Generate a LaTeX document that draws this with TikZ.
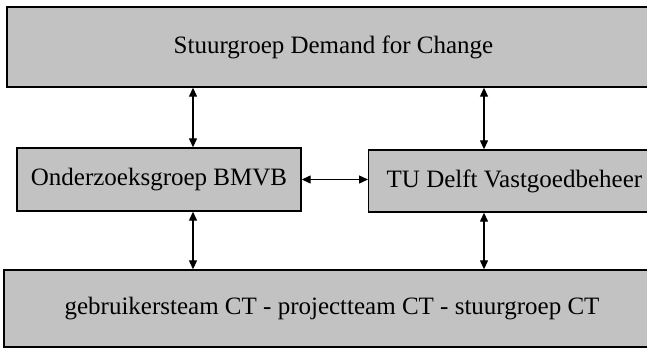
\documentclass[tikz,border=0pt]{standalone}
\usepackage{fontspec}
\setmainfont{Liberation Serif}
\usetikzlibrary{arrows.meta}
\tikzset{
  boxstyle/.style={draw=black, line width=1.4pt, fill=black!24, inner sep=0pt, font=\fontsize{25}{28}\selectfont},
  arr/.style={line width=1.3pt, {Triangle[length=9pt,width=8pt]}-{Triangle[length=9pt,width=8pt]}}
}
\begin{document}
\begin{tikzpicture}[x=1pt,y=-1pt]
\clip (0,0) rectangle (647,351);
\fill[white] (0,0) rectangle (647,351);
\node[boxstyle, minimum width=653pt, minimum height=80pt] (top) at (333.5,47) {Stuurgroep Demand for Change};
\node[boxstyle, minimum width=284pt, minimum height=63pt] (lbox) at (159,179.5) {Onderzoeksgroep BMVB};
\node[boxstyle, anchor=west, text width=274pt, inner xsep=18pt, align=flush left, minimum height=62pt] (rbox) at (368,181) {TU Delft Vastgoedbeheer};
\node[boxstyle, minimum width=656pt, minimum height=77pt] (bot) at (332,308.5) {gebruikersteam CT - projectteam CT - stuurgroep CT};
\coordinate (la) at (193,0);
\coordinate (ra) at (484,0);
\draw[arr] (top.south -| la) -- (lbox.north -| la);
\draw[arr] (top.south -| ra) -- (rbox.north -| ra);
\draw[arr] (lbox.south -| la) -- (bot.north -| la);
\draw[arr] (rbox.south -| ra) -- (bot.north -| ra);
\draw[arr] (lbox.east) -- (rbox.west |- lbox.east);
\end{tikzpicture}
\end{document}
